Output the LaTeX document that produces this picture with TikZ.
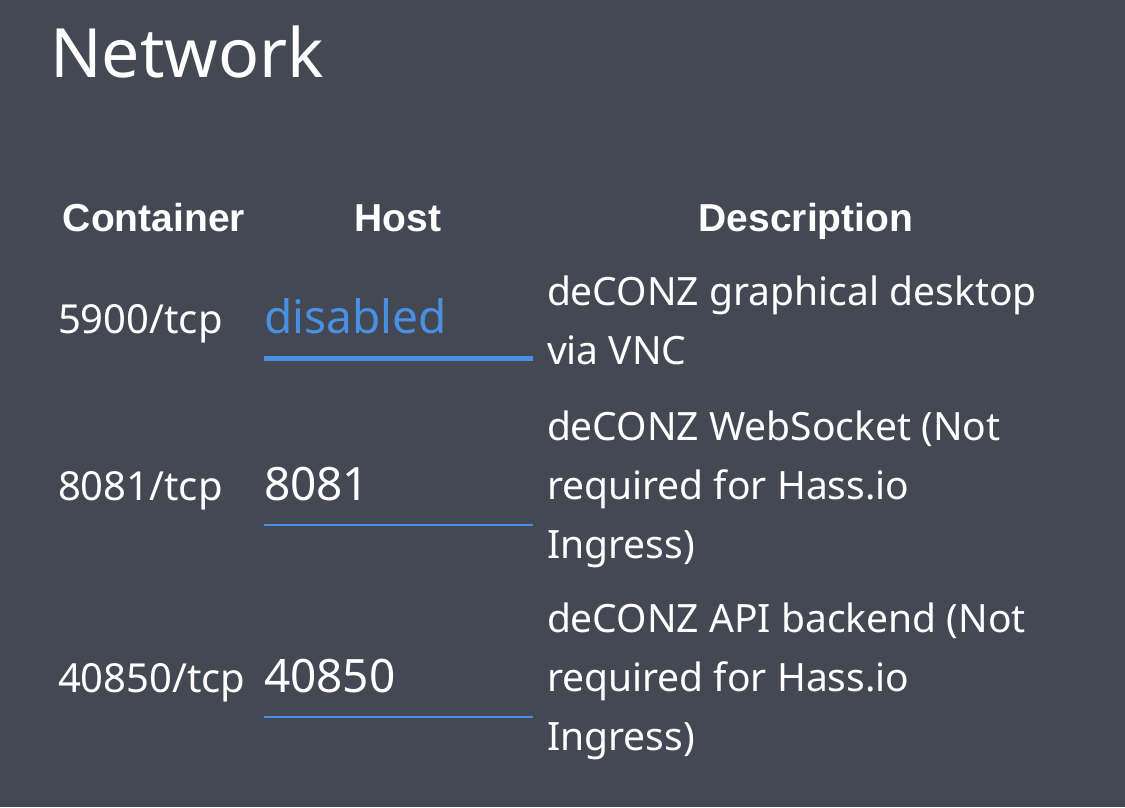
\documentclass[tikz,border=0pt]{standalone}
\usepackage{fontspec}
\setmainfont{Noto Sans}
\newfontfamily\headfont{Liberation Sans}
\definecolor{bg}{RGB}{67,72,83}
\definecolor{hablue}{RGB}{74,144,226}
\begin{document}
\begin{tikzpicture}[x=1pt,y=-1pt,
  every node/.style={inner sep=0pt,outer sep=0pt,text=white},
  title/.style={anchor=base west,font=\fontsize{68}{80}\selectfont},
  head/.style={anchor=base,font=\fontsize{39}{46}\headfont\bfseries},
  port/.style={anchor=base west,font=\fontsize{40}{46}\selectfont},
  host/.style={anchor=base west,font=\fontsize{46}{54}\selectfont},
  desc/.style={anchor=base west,font=\fontsize{39}{46}\selectfont},
  uline/.style={draw=hablue,line width=2.5pt},
  ulinefocus/.style={draw=hablue,line width=5pt}]
\useasboundingbox (0,0) rectangle (1125,807);
\fill[bg] (0,0) rectangle (1125,807);
\node[title] (t) at (50,77) {Network};
\node[head] (hc) at (154,231) {Container};
\node[head] (hh) at (398,231) {Host};
\node[head] (hd) at (806,231) {Description};
% row 1
\node[port] (p1) at (58,333) {5900/tcp};
\node[host,text=hablue] (h1) at (264,333) {disabled};
\coordinate (l1a) at (264,358);
\coordinate (l1b) at (533,358);
\draw[ulinefocus] (l1a) -- (l1b);
\node[desc] (d1a) at (547,305) {deCONZ graphical desktop};
\node[desc] (d1b) at (547,364) {via VNC};
% row 2
\node[port] (p2) at (58,500) {8081/tcp};
\node[host] (h2) at (264,500) {8081};
\coordinate (l2a) at (264,525);
\coordinate (l2b) at (533,525);
\draw[uline] (l2a) -- (l2b);
\node[desc] (d2a) at (547,440) {deCONZ WebSocket (Not};
\node[desc] (d2b) at (547,499) {required for Hass.io};
\node[desc] (d2c) at (547,558) {Ingress)};
% row 3
\node[port] (p3) at (58,692) {40850/tcp};
\node[host] (h3) at (264,692) {40850};
\coordinate (l3a) at (264,717);
\coordinate (l3b) at (533,717);
\draw[uline] (l3a) -- (l3b);
\node[desc] (d3a) at (547,632) {deCONZ API backend (Not};
\node[desc] (d3b) at (547,691) {required for Hass.io};
\node[desc] (d3c) at (547,750) {Ingress)};
\end{tikzpicture}
\end{document}
